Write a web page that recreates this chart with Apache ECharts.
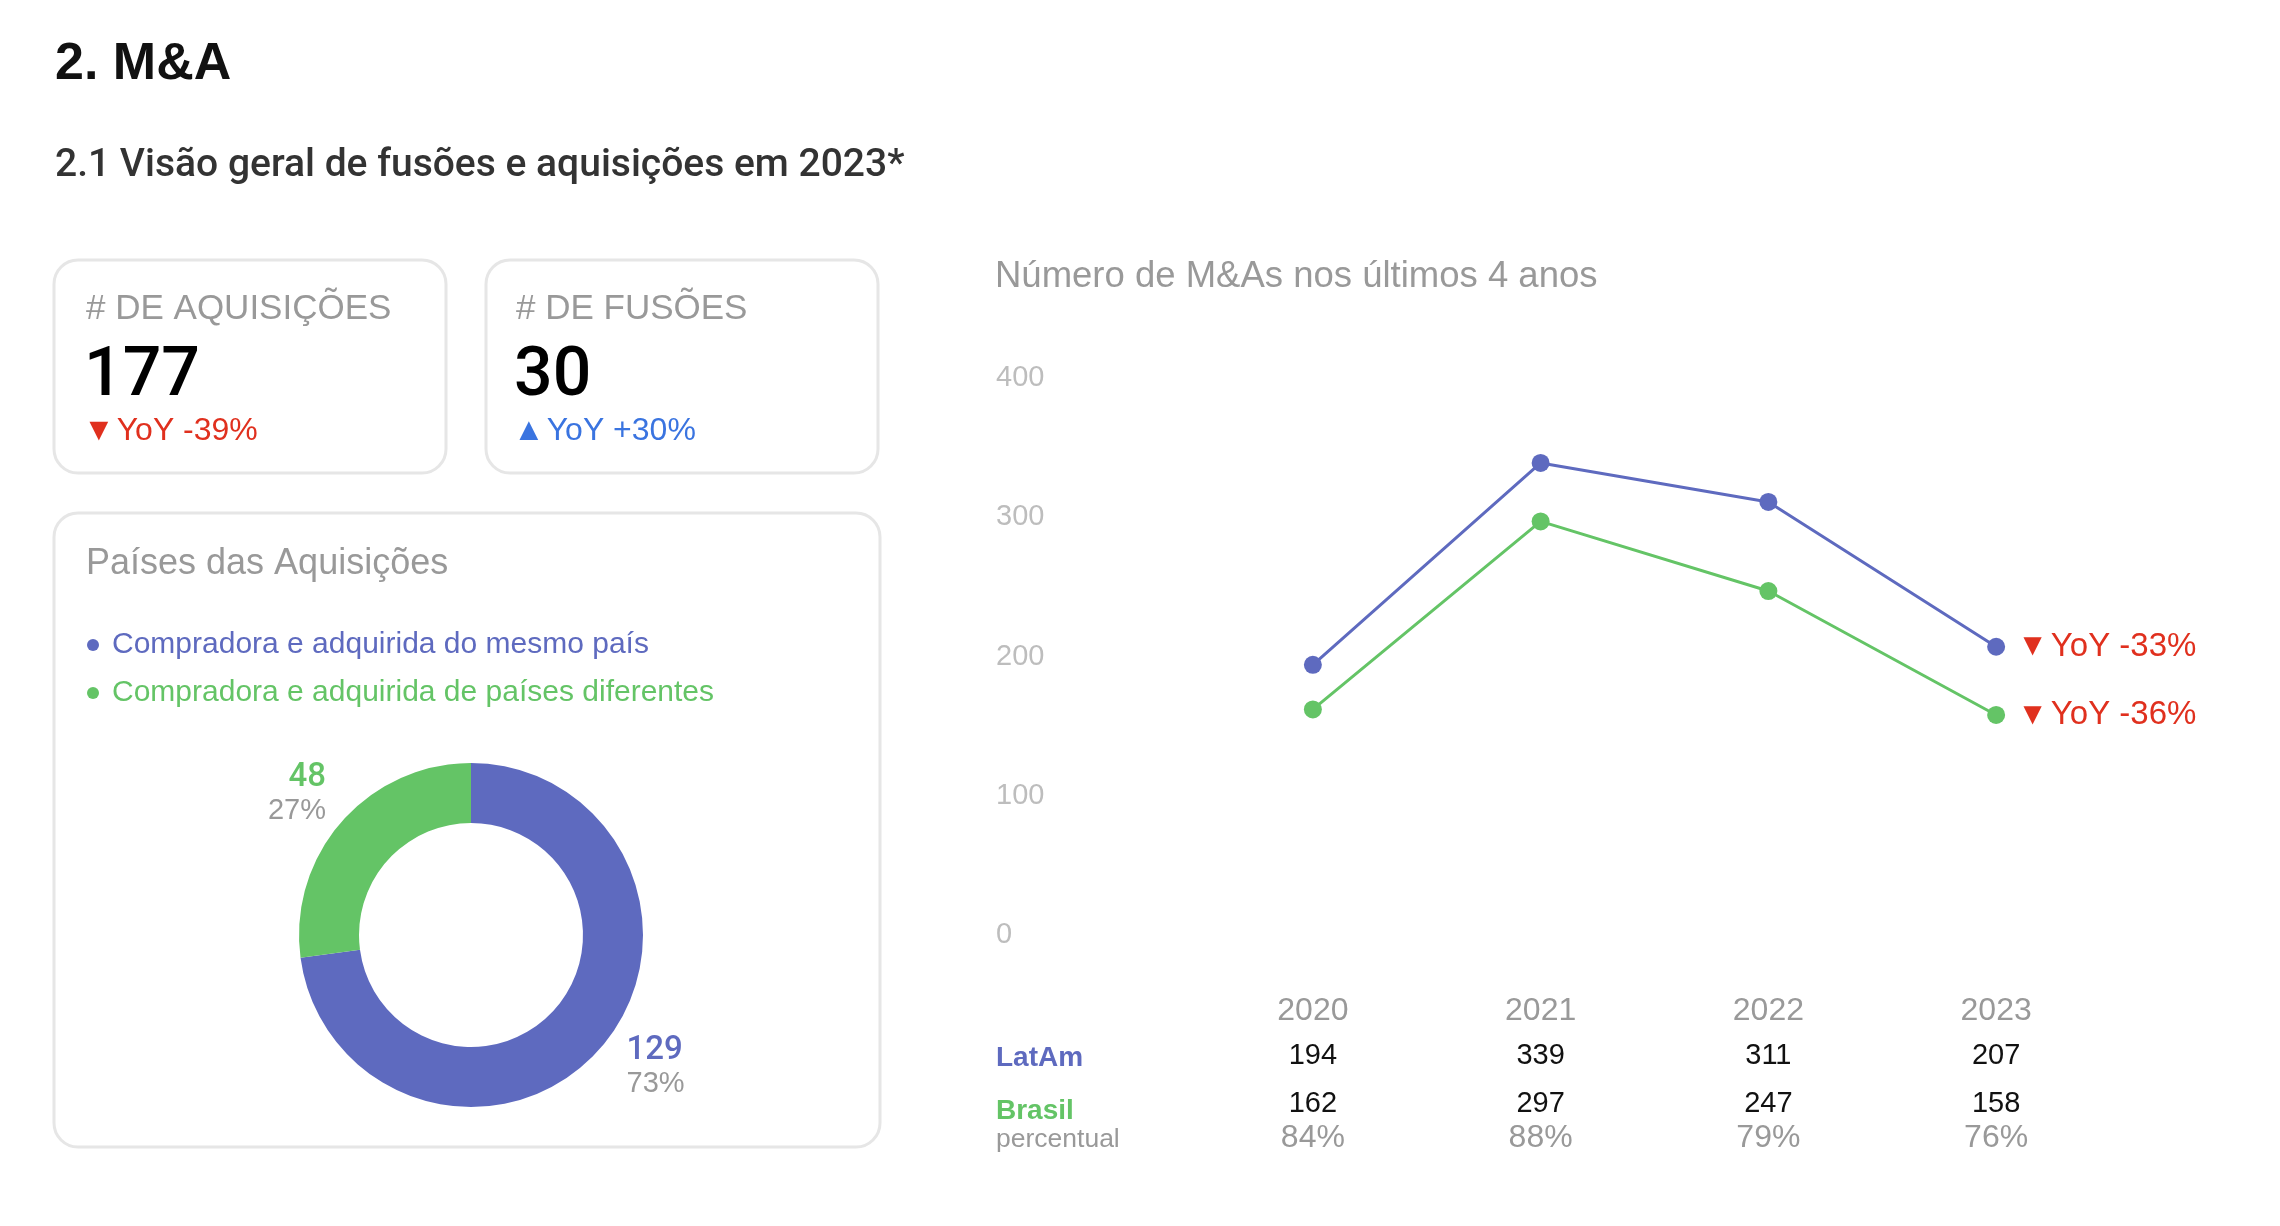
<!DOCTYPE html>
<html><head><meta charset="utf-8">
<script src="https://cdn.jsdelivr.net/npm/echarts/dist/echarts.min.js"></script>
<style>html,body{margin:0;padding:0;background:#fff}#c{width:2280px;height:1226px}</style>
</head><body><div id="c"></div>
<script>
// ---------- data ----------
const years = ['2020', '2021', '2022', '2023'];
const latamValues = [194, 339, 311, 207];
const brasilValues = [162, 297, 247, 158];
const brasilShare = ['84%', '88%', '79%', '76%'];
const seriesNames = ['LatAm', 'Brasil'];
const lineYoY = ['YoY -33%', 'YoY -36%'];
const yMin = 0, yMax = 400, yStep = 100;

const pieNames = ['Compradora e adquirida do mesmo país', 'Compradora e adquirida de países diferentes'];
const pieValues = [129, 48];

const kpiLabels = ['# DE AQUISIÇÕES', '# DE FUSÕES'];
const kpiValues = [177, 30];
const kpiArrows = ['▼', '▲'];
const kpiYoY = ['YoY -39%', 'YoY +30%'];

const pageTitle = '2. M&A';
const pageSubtitle = '2.1 Visão geral de fusões e aquisições em 2023*';
const pieTitle = 'Países das Aquisições';
const lineTitle = 'Número de M&As nos últimos 4 anos';
const rowLabels = ['LatAm', 'Brasil', 'percentual'];

// ---------- style ----------
const FONT = '"Liberation Sans", Arial, Helvetica, sans-serif';
const MED = 'Roboto, "Liberation Sans", Arial, sans-serif';
const BLUE = '#5e6abf', GREEN = '#64c466', RED = '#e0301e', UPBLUE = '#3a74e0';
const GREY = '#999999', LIGHT = '#bdbdbd', CARD = '#e6e6e6';

const chart = echarts.init(document.getElementById('c'), null, {renderer: 'canvas'});

function txt(text, x, y, size, color, weight, family) {
  return {type: 'text', z: 5, style: {text: text, x: x, y: y, fill: color,
    font: (weight || 'normal') + ' ' + size + 'px ' + (family || FONT),
    textAlign: 'left', textVerticalAlign: 'middle'}};
}
function card(x, y, w, h) {
  return {type: 'rect', z: 0, shape: {x: x, y: y, width: w, height: h, r: 24},
    style: {fill: '#fff', stroke: CARD, lineWidth: 3}};
}
function kpiDelta(i, x, y, color) {
  return {type: 'text', z: 5, style: {
    text: '{a|' + kpiArrows[i] + '}{b|' + kpiYoY[i] + '}', x: x, y: y,
    textVerticalAlign: 'middle', fill: color,
    rich: {a: {fontSize: 32, fill: color, fontFamily: FONT, padding: [0, 2, 0, 0]},
           b: {fontSize: 32, fill: color, fontFamily: FONT}}
  }};
}
function endRich() {
  return {a: {fontSize: 31, color: RED, fontFamily: FONT, padding: [0, 3, 0, 0]},
          b: {fontSize: 33, color: RED, fontFamily: FONT}};
}

const graphics = [
  txt(pageTitle, 55, 65, 52, '#111', 'bold'),
  txt(pageSubtitle, 55, 166, 39, '#333', '500', MED),
  card(54, 260, 392, 213),
  card(486, 260, 392, 213),
  card(54, 513, 826, 634),
  txt(kpiLabels[0], 86, 309, 35, GREY),
  txt(String(kpiValues[0]), 84, 378, 68, '#000', '500', MED),
  kpiDelta(0, 83, 431, RED),
  txt(kpiLabels[1], 516, 309, 35, GREY),
  txt(String(kpiValues[1]), 514, 378, 68, '#000', '500', MED),
  kpiDelta(1, 513, 431, UPBLUE),
  txt(pieTitle, 86, 564, 36, GREY),
  txt(lineTitle, 995, 277, 36.5, GREY),
  txt(rowLabels[0], 996, 1058, 28, BLUE, 'bold'),
  txt(rowLabels[1], 996, 1111, 28, GREEN, 'bold'),
  txt(rowLabels[2], 996, 1140, 26.5, GREY)
];

function rowAxis(data, margin, color, size) {
  return {type: 'category', gridIndex: 0, position: 'bottom', data: data,
    axisLine: {show: false}, axisTick: {show: false}, splitLine: {show: false},
    axisLabel: {interval: 0, margin: margin, color: color, fontSize: size, fontFamily: FONT}};
}

const option = {
  animation: false,
  textStyle: {fontFamily: FONT},
  graphic: {elements: graphics},
  legend: {
    orient: 'vertical', left: 82, top: 625, itemWidth: 28, itemHeight: 12, itemGap: 18,
    icon: 'circle', selectedMode: false,
    textStyle: {fontSize: 30, fontFamily: FONT},
    data: [
      {name: pieNames[0], textStyle: {color: BLUE}},
      {name: pieNames[1], textStyle: {color: GREEN}}
    ]
  },
  grid: {left: 1199, right: 170, top: 378, bottom: 291, containLabel: false},
  xAxis: [
    rowAxis(years, 60, GREY, 32),
    rowAxis(latamValues.map(String), 106, '#111', 29),
    rowAxis(brasilValues.map(String), 154, '#111', 29),
    rowAxis(brasilShare, 187, GREY, 32)
  ],
  yAxis: {type: 'value', min: yMin, max: yMax, interval: yStep,
    axisLine: {show: false}, axisTick: {show: false}, splitLine: {show: false},
    axisLabel: {align: 'left', margin: 203, color: LIGHT, fontSize: 29, fontFamily: FONT}},
  series: [
    {
      type: 'pie', center: [471, 935], radius: [112, 172], startAngle: 90, clockwise: true,
      percentPrecision: 0, avoidLabelOverlap: false, silent: true,
      label: {
        show: true, position: 'outside',
        formatter: function (p) { return '{v' + p.dataIndex + '|' + p.value + '}\n{p|' + p.percent + '%}'; },
        rich: {
          v0: {color: BLUE, fontSize: 33, fontWeight: 500, fontFamily: MED, lineHeight: 34},
          v1: {color: GREEN, fontSize: 33, fontWeight: 500, fontFamily: MED, lineHeight: 34},
          p: {color: GREY, fontSize: 29, fontFamily: FONT, lineHeight: 32}
        }
      },
      labelLine: {show: false, length: 28, length2: 0},
      labelLayout: function (p) { return p.dataIndex === 1 ? {dy: -19} : {}; },
      data: [
        {name: pieNames[0], value: pieValues[0], itemStyle: {color: BLUE}},
        {name: pieNames[1], value: pieValues[1], itemStyle: {color: GREEN}, labelLine: {length: 14, length2: 0}}
      ]
    },
    {
      type: 'line', name: seriesNames[0], xAxisIndex: 0, yAxisIndex: 0, data: latamValues,
      symbol: 'circle', symbolSize: 18, lineStyle: {width: 3, color: BLUE}, itemStyle: {color: BLUE},
      silent: true,
      endLabel: {show: true, distance: 21, formatter: '{a|▼}{b|' + lineYoY[0] + '}', rich: endRich()}
    },
    {
      type: 'line', name: seriesNames[1], xAxisIndex: 0, yAxisIndex: 0, data: brasilValues,
      symbol: 'circle', symbolSize: 18, lineStyle: {width: 3, color: GREEN}, itemStyle: {color: GREEN},
      silent: true,
      endLabel: {show: true, distance: 21, formatter: '{a|▼}{b|' + lineYoY[1] + '}', rich: endRich()}
    }
  ]
};
chart.setOption(option);
</script>
</body></html>
